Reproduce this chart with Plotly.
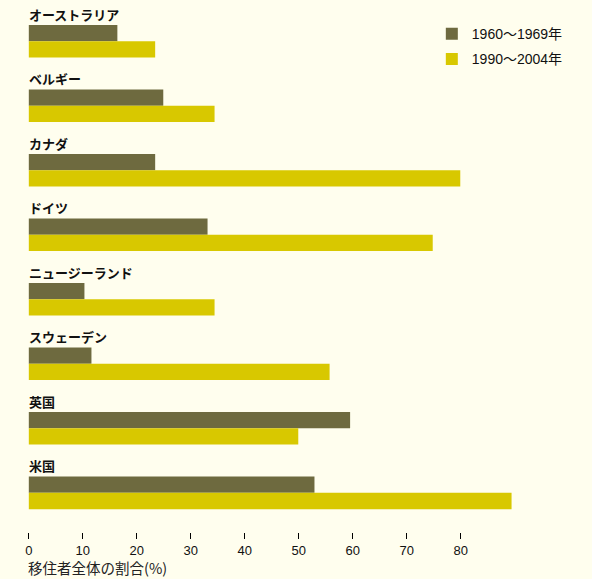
import plotly.graph_objects as go

countries = ["オーストラリア", "ベルギー", "カナダ", "ドイツ", "ニュージーランド", "スウェーデン", "英国", "米国"]
series_names = ["1960〜1969年", "1990〜2004年"]
vals_1960s = [16.4, 24.9, 23.4, 33.1, 10.3, 11.6, 59.5, 52.9]
vals_1990s = [23.4, 34.4, 79.9, 74.8, 34.4, 55.7, 49.9, 89.4]
tick_vals = [0, 10, 20, 30, 40, 50, 60, 70, 80]
axis_title = "移住者全体の割合(%)"

DARK = "#6e6a3f"
YELLOW = "#d8c800"
BG = "#fffeee"
FONT = "Arial, Liberation Sans, Noto Sans CJK JP, sans-serif"
CJK = "Noto Sans CJK JP, sans-serif"

BAR_W = 0.2527

fig = go.Figure()
fig.add_trace(go.Bar(
    y=countries, x=vals_1960s, orientation="h", name=series_names[0],
    marker=dict(color=DARK, line=dict(width=0)), width=BAR_W, offset=0,
    legendgroup="a", hoverinfo="x+y",
))
fig.add_trace(go.Bar(
    y=countries, x=vals_1990s, orientation="h", name=series_names[1],
    marker=dict(color=YELLOW, line=dict(width=0)), width=BAR_W, offset=BAR_W,
    legendgroup="b", hoverinfo="x+y",
))

annotations = []
for c in countries:
    annotations.append(dict(
        x=0, y=c, xref="x", yref="y", text="<b>%s</b>" % c, showarrow=False,
        xanchor="left", yanchor="middle", yshift=11, xshift=-2,
        font=dict(family=CJK, size=13, color="#111111"),
    ))
annotations.append(dict(
    x=0, y=-0.0883, xref="x", yref="paper", text=axis_title, showarrow=False,
    xanchor="left", yanchor="bottom", xshift=-2, borderpad=0,
    font=dict(family=CJK, size=14.5, color="#222222"),
))

fig.update_layout(
    width=592, height=579,
    margin=dict(l=28, r=0, t=0, b=47),
    paper_bgcolor=BG, plot_bgcolor=BG,
    barmode="overlay",
    showlegend=True,
    legend=dict(
        x=0.716, y=0.966, xanchor="left", yanchor="top",
        bgcolor="rgba(0,0,0,0)", font=dict(family=FONT, size=14, color="#111111"),
        traceorder="grouped", tracegroupgap=4,
    ),
    xaxis=dict(
        range=[-0.15, -0.15 + 564 / 5.4], tickvals=tick_vals, ticks="outside",
        ticklen=6, tickwidth=1, tickcolor="#000000", showgrid=False,
        zeroline=False, showline=False,
        tickfont=dict(family=FONT, size=13, color="#111111"),
    ),
    yaxis=dict(
        type="category", categoryorder="array", categoryarray=countries,
        range=[7.860, -0.3876], showticklabels=False, ticks="",
        showgrid=False, zeroline=False, showline=False,
    ),
    annotations=annotations,
)

fig.write_html("out.html")
